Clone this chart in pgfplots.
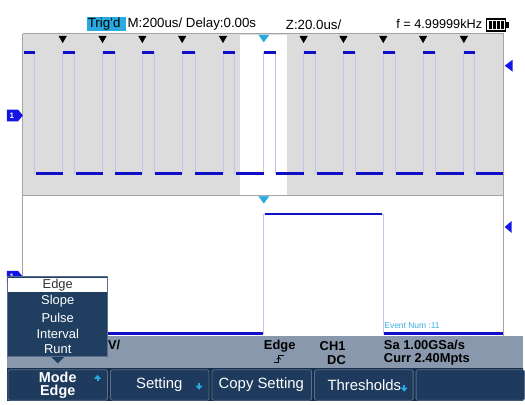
\documentclass[border=0pt]{standalone}
\usepackage{pgfplots}
\pgfplotsset{compat=1.18}
\usepackage{fontspec}
\setmainfont{Liberation Sans}
\definecolor{scgray}{RGB}{220,220,220}
\definecolor{framec}{RGB}{165,165,165}
\definecolor{wave}{RGB}{15,15,200}
\definecolor{edgec}{RGB}{195,195,238}
\definecolor{trigc}{RGB}{40,170,225}
\definecolor{statbar}{RGB}{137,152,173}
\definecolor{navy}{RGB}{24,47,76}
\definecolor{btn}{RGB}{30,58,92}
\definecolor{btnb}{RGB}{88,110,140}
\definecolor{menuc}{RGB}{32,62,96}
\definecolor{mark1}{RGB}{20,20,230}
\definecolor{evc}{RGB}{60,175,225}
\begin{document}
\begin{tikzpicture}
\begin{axis}[width=525bp,height=406bp,scale only axis,
  xmin=0,xmax=525,ymin=0,ymax=406,y dir=reverse,hide axis,clip=false]
% page background
\fill[white] (0,0) rectangle (525,406);
% upper window
\fill[scgray] (23,34) rectangle (506,196);
\fill[white] (241,35) rectangle (288,196);
\draw[framec,line width=1bp] (23,34) -- (506,34);
\draw[framec,line width=1bp] (23,34) -- (23,338);
\draw[framec,line width=1bp] (23,196) -- (506,196);
\draw[framec,line width=1bp] (506,34) -- (506,338);
% upper waveform edges
\addplot[edgec,line width=0.9bp] coordinates {
(24,53)(35,53)(35,174)(63,174)(63,53)(75,53)(75,174)(103,174)(103,53)(116,53)(116,174)
(143,174)(143,53)(155,53)(155,174)(183,174)(183,53)(196,53)(196,174)(224,174)(224,53)
(236,53)(236,174)(265,174)(265,53)(277,53)(277,174)(305,174)(305,53)(317,53)(317,174)
(345,174)(345,53)(357,53)(357,174)(385,174)(385,53)(397,53)(397,174)(425,174)(425,53)
(437,53)(437,174)(466,174)(466,53)(477,53)(477,174)(505,174)};
% high levels
\addplot[wave,line width=2.8bp,unbounded coords=jump] coordinates {
(24,53)(35,53)(36,nan)(63,53)(75,53)(76,nan)(103,53)(116,53)(117,nan)(143,53)(155,53)(156,nan)
(183,53)(196,53)(197,nan)(224,53)(236,53)(237,nan)(265,53)(277,53)(278,nan)(305,53)(317,53)(318,nan)
(345,53)(357,53)(358,nan)(385,53)(397,53)(398,nan)(425,53)(437,53)(438,nan)(466,53)(477,53)};
% low levels
\addplot[wave,line width=3.4bp,unbounded coords=jump] coordinates {
(36,174)(63,174)(64,nan)(76,174)(103,174)(104,nan)(116,174)(143,174)(144,nan)(156,174)(183,174)(184,nan)
(196,174)(224,174)(225,nan)(237,174)(265,174)(266,nan)(277,174)(305,174)(306,nan)(318,174)(345,174)(346,nan)
(358,174)(385,174)(386,nan)(398,174)(425,174)(426,nan)(438,174)(466,174)(467,nan)(478,174)(505,174)};
% edge markers
\addplot[only marks,mark=triangle*,mark size=4.3bp,black,mark options={rotate=180}] coordinates {
(63,38.5)(103,38.5)(143,38.5)(183,38.5)(224,38.5)(305,38.5)(345,38.5)(385,38.5)(425,38.5)(466,38.5)};
\addplot[only marks,mark=triangle*,mark size=5.8bp,trigc,mark options={rotate=180,yscale=0.8}] coordinates {
(265,37.5)(265,199.5)};
% lower waveform
\addplot[edgec,line width=0.9bp] coordinates {(24,335)(265,335)(265,215)(385,215)(385,335)(505,335)};
\addplot[wave,line width=2.9bp,unbounded coords=jump] coordinates {
(24,335)(264,335)(265,nan)(266,215)(384,215)(385,nan)(386,335)(505,335)};
% right-side level markers
\fill[mark1] (507,66) -- (515,60) -- (515,72) -- cycle;
\fill[mark1] (507,228) -- (514,222) -- (514,234) -- cycle;
% channel 1 markers
\fill[mark1] (7,110) -- (18,110) -- (23,116) -- (18,122) -- (7,122) -- cycle;
\node[white,font=\fontsize{8}{8}\selectfont\bfseries,inner sep=0] at (12,116) {1};
\fill[mark1] (7,272) -- (18,272) -- (23,278) -- (18,284) -- (7,284) -- cycle;
\node[white,font=\fontsize{8}{8}\selectfont\bfseries,inner sep=0] at (12,278) {1};
\node[evc,anchor=west,inner sep=0,font=\fontsize{8.5}{9}\selectfont] at (386,327) {Event Num :11};
% top bar
\fill[trigc] (87,17) rectangle (127,31);
\node[anchor=west,inner sep=0,font=\fontsize{13.4}{14}\selectfont] at (88,24.5) {Trig'd};
\node[anchor=west,inner sep=0,font=\fontsize{13.4}{14}\selectfont] at (128,24.5) {M:200us/ Delay:0.00s};
\node[anchor=west,inner sep=0,font=\fontsize{13.4}{14}\selectfont] at (287,24.5) {Z:20.0us/};
\node[anchor=west,inner sep=0,font=\fontsize{12.8}{14}\selectfont] at (398,24.5) {f = 4.99999kHz};
\draw[black,line width=1.3bp] (488.5,19) rectangle (508,31);
\fill[black] (508.6,22) rectangle (511,28);
\fill[black] (491,21.3) rectangle (493.8,28.7);
\fill[black] (495.1,21.3) rectangle (497.9,28.7);
\fill[black] (499.2,21.3) rectangle (502.0,28.7);
\fill[black] (503.3,21.3) rectangle (506.0,28.7);
% status bar
\fill[statbar] (7,338) rectangle (525,370);
\node[anchor=east,inner sep=0,font=\fontsize{13}{14}\selectfont\bfseries] at (121,347) {1.00V/};
\node[anchor=west,inner sep=0,font=\fontsize{13}{14}\selectfont\bfseries] at (265,347.5) {Edge};
\draw[black,line width=0.8bp] (275,364) -- (280,364) -- (280,357) -- (285,357);
\draw[black,line width=0.8bp] (278,361) -- (280,359) -- (282,361);
\node[anchor=west,inner sep=0,font=\fontsize{13}{14}\selectfont\bfseries] at (321,347.5) {CH1};
\node[anchor=west,inner sep=0,font=\fontsize{13}{14}\selectfont\bfseries] at (328.5,361.5) {DC};
\node[anchor=west,inner sep=0,font=\fontsize{13}{14}\selectfont\bfseries] at (385.5,346.5) {Sa 1.00GSa/s};
\node[anchor=west,inner sep=0,font=\fontsize{13}{14}\selectfont\bfseries] at (385.5,360.5) {Curr 2.40Mpts};
% button bar
\fill[navy] (7,370) rectangle (525,403);
\draw[btnb,fill=btn,line width=0.8bp,rounded corners=1.5bp] (8,371.5) rectangle (108,402);
\draw[btnb,fill=btn,line width=0.8bp,rounded corners=1.5bp] (111,371.5) rectangle (210,402);
\draw[btnb,fill=btn,line width=0.8bp,rounded corners=1.5bp] (213,371.5) rectangle (313,402);
\draw[btnb,fill=btn,line width=0.8bp,rounded corners=1.5bp] (316,371.5) rectangle (415,402);
\draw[btnb,fill=btn,line width=0.8bp,rounded corners=1.5bp] (418,371.5) rectangle (527,402);
\node[white,inner sep=0,font=\fontsize{14.5}{15}\selectfont\bfseries] at (58,379.5) {Mode};
\node[white,inner sep=0,font=\fontsize{14.5}{15}\selectfont\bfseries] at (58,394) {Edge};
\node[white,inner sep=0,font=\fontsize{15}{16}\selectfont] at (160,386.5) {Setting};
\node[white,inner sep=0,font=\fontsize{15}{16}\selectfont] at (262.5,386.5) {Copy Setting};
\node[white,inner sep=0,font=\fontsize{15}{16}\selectfont] at (366,386.5) {Thresholds};
% small arrows
\fill[trigc] (98,376.5) -- (94.5,380.5) -- (101.5,380.5) -- cycle;
\fill[trigc] (97,380.5) rectangle (99,383);
\fill[trigc] (200,391.5) -- (196.5,387.5) -- (203.5,387.5) -- cycle;
\fill[trigc] (199,385) rectangle (201,387.5);
\fill[trigc] (406,393.5) -- (402.5,389.5) -- (409.5,389.5) -- cycle;
\fill[trigc] (405,387) rectangle (407,389.5);
% popup menu
\fill[menuc] (7,278) rectangle (108,358);
\fill[menuc] (51,358) -- (65,358) -- (58,365) -- cycle;
\draw[btnb,line width=0.6bp] (7,278) rectangle (108,358);
\fill[white] (8,279) rectangle (107,293.5);
\node[black!80,inner sep=0,font=\fontsize{13}{14}\selectfont] at (58,286.5) {Edge};
\node[white,inner sep=0,font=\fontsize{13}{14}\selectfont] at (58,303) {Slope};
\node[white,inner sep=0,font=\fontsize{13}{14}\selectfont] at (58,319) {Pulse};
\node[white,inner sep=0,font=\fontsize{13}{14}\selectfont] at (58,335) {Interval};
\node[white,inner sep=0,font=\fontsize{13}{14}\selectfont] at (58,351) {Runt};
\end{axis}
\end{tikzpicture}
\end{document}
